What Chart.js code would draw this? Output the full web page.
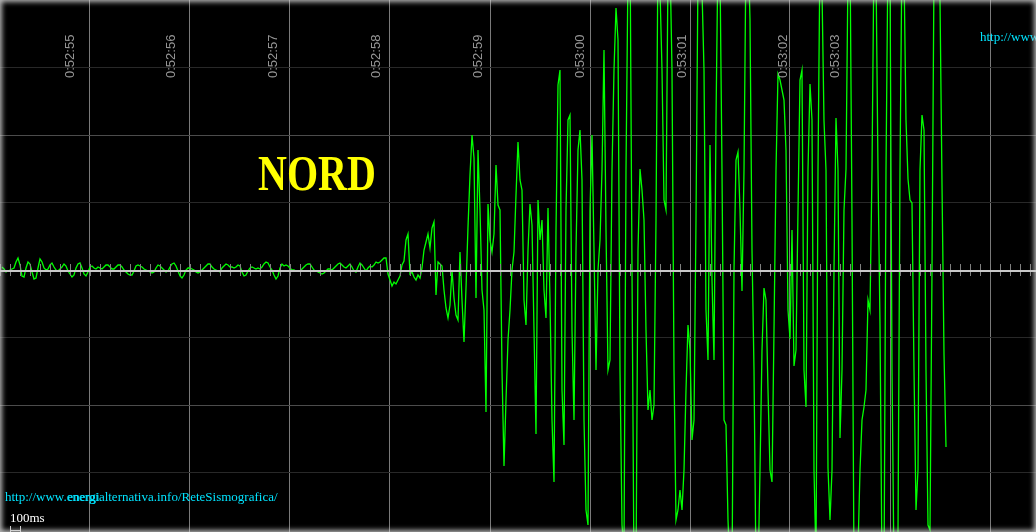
<!DOCTYPE html>
<html>
<head>
<meta charset="utf-8">
<script src="https://cdn.jsdelivr.net/npm/chart.js@4.4.0/dist/chart.umd.min.js"></script>
<style>
html,body{margin:0;padding:0;background:#000;overflow:hidden;}
#wrap{position:relative;width:1036px;height:532px;background:#000;}
#frame{position:absolute;left:0;top:0;width:1036px;height:532px;pointer-events:none;
  box-shadow: inset 0 0 5px 2px rgba(215,215,215,0.85);}
canvas{display:block;}
</style>
</head>
<body>
<div id="wrap"><canvas id="c" width="1036" height="532"></canvas><div id="frame"></div></div>
<script>
// ---- data ----
const startTime = -0.88;        // seconds, relative to the first grid second
const sampleInterval = 0.02;    // seconds between samples
const quietTrace = [
  3, 1, -2, -1, 0, 1, 2, 8, 12, 5,
  -6, -7, 2, 8, 6, -2, -9, -8, 2, 11,
  8, 2, 0, 1, 5, 7, 3, 0, -1, 1,
  3, 6, 4, -1, -4, -7, -5, 2, 6, 7,
  2, -4, -6, -2, 3, 4, 2, 1, 3, 2,
  1, 3, 5, 5, 3, 1, 1, 3, 5, 5,
  3, 0, -2, -4, -5, -5, -1, 4, 5, 4,
  3, 1, 0, -1, -2, -3, -2, 2, 5, 4,
  2, 0, -2, -1, 3, 6, 7, 4, -1, -6,
  -8, -5, 0, 2, 2, 1, 0, -2, -3, -2,
  0, 2, 4, 6, 6, 3, 1, 0, -1, -2,
  2, 4, 6, 5, 3, 3, 2, 3, 5, 4,
  -2, -6, -5, -1, 2, 3, 2, 1, 2, 1,
  3, 6, 8, 7, 3, 0, -5, -9, -6, 2,
  6, 4, 5, 4, 2, 0, 0, -1, -1, -1,
  1, 3, 5, 6, 6, 3, 0, -1, -2, -3,
  -4, -3, -1, 1, 1, 0, 2, 4, 6, 7,
  5, 3, 2, 4, 6, 3, -1, -2, 3, 7,
  5, 2, -1, 2, 4, 3, 5, 8, 7, 8,
  10, 12, 12, -4
];
const onsetTrace = [
  -10, -16, -12, -14, -10, -6, 5, 9, 30, 36,
  -4, -2, -7, -10, -5, -8, 2, 20, 28, 36,
  22, 42, 48, -25, 8, 6, 4, -20, -38, -48,
  -35, 0, -28, -45, -50, 18, -30, -72, -18, 43,
  95, 135, 112, -28, 120, 60, -20, -40, -142, 66,
  30, 18, 36, 105, 65, 60, -100, -196, -130, -70,
  -40, 0, 18, 75, 128, 90, 80, -30, -55, 20,
  66
];
const strongTrace = [
  45, -60, -164, 70, 30, 50, -20, -48, 62, -30,
  -150, -212, 40, 185, 200, -120, -175, 60, 150, 155,
  -60, -150, 20, 120, 140, 90, -150, -240, -255, 60,
  135, 20, -100, 0, 30, 100, 220, 40, -100, -90,
  100, 200, 262, 230, -100, -255, -280, 100, 300, 330,
  0, -300, -300, 20, 101, 80, 50, -60, -140, -120,
  -150, -135, 50, 320, 280, 200, 70, 60, 300, 310,
  200, -100, -250, -240, -220, -240, -200, -120, -55, -80,
  -170, -150, 50, 300, 330, 280, 200, -40, -90, 125,
  -10, -90, 150, 320, 300, 100, -150, -155, -250, -300,
  -310, 0, 110, 118, 60, -21, 100, 320, 330, 250,
  20, -100, -300, -310, -200, -80, -18, -30, -120, -200,
  -212, -60, 100, 196, 190, 180, 170, 120, -40, -69,
  40, -96, -80, 60, 190, 200, -100, -137, 100, 186,
  150, -200, -290, 100, 320, 280, 149, 100, -198, -250,
  -200, 0, 152, 100, -168, -100, 60, 101, 300, 320,
  50, -300, -310, -280, -200, -150, -137, -120, -30, -40,
  100, 320, 300, 100, -55, -300, -310, 100, 320, 300,
  -100, -300, -310, -262, 100, 320, 300, 150, 91, 70,
  67, -100, -240, -200, 100, 155, 140, -100, -255, -260,
  0, 300, 320, 300, 270, 86, -84, -177
];
const timeLabels = ['0:52:55','0:52:56','0:52:57','0:52:58','0:52:59','0:53:00','0:53:01','0:53:02','0:53:03'];
const timeLabelPositions = [-0.20, 0.81, 1.83, 2.86, 3.88, 4.90, 5.92, 6.93, 7.45];
const gridSeconds = [0, 1, 2, 3, 4, 5, 6, 7, 8, 9];
const amplitudeGrid = [-202.5, -135, -67.5, 67.5, 135, 202.5];
const timeMin = -0.9, timeMax = 9.46;
const amplitudeMin = -262, amplitudeMax = 270;
const tickStep = 0.1; // 100 ms marks
const stationTitle = 'NORD';
const siteUrl = 'http://www.energialternativa.info/ReteSismografica/';
const siteUrlShort = 'http://www';
const scaleLabel = '100ms';

// ---- build ----
const trace = quietTrace.concat(onsetTrace, strongTrace);
const points = trace.map((v, i) => ({x: +(startTime + i * sampleInterval).toFixed(3), y: v}));

const overlay = {
  id: 'overlay',
  afterDatasetsDraw(chart) {
    const {ctx, chartArea, scales: {x, y}} = chart;
    const y0 = Math.round(y.getPixelForValue(0));
    ctx.save();
    // 100 ms tick marks
    ctx.fillStyle = '#808080';
    for (let k = Math.ceil(timeMin / tickStep); k <= Math.floor(timeMax / tickStep); k++) {
      const px = Math.round(x.getPixelForValue(k * tickStep));
      ctx.fillRect(px, y0 - 6, 1, 12);
    }
    // zero line
    ctx.fillStyle = '#c8c8c8';
    ctx.fillRect(chartArea.left, y0, chartArea.right - chartArea.left, 2);
    // time labels
    ctx.fillStyle = '#969696';
    ctx.font = '13px "Liberation Sans", Arial, sans-serif';
    ctx.textAlign = 'left';
    ctx.textBaseline = 'middle';
    timeLabels.forEach((t, i) => {
      const px = x.getPixelForValue(timeLabelPositions[i]);
      ctx.save();
      ctx.translate(px, 78);
      ctx.rotate(-Math.PI / 2);
      ctx.fillText(t, 0, 0);
      ctx.restore();
    });
    ctx.restore();
  },
  afterDraw(chart) {
    const ctx = chart.ctx;
    ctx.save();
    // station name
    ctx.fillStyle = '#ffff00';
    ctx.font = 'bold 40px "Liberation Serif", "Times New Roman", serif';
    ctx.textBaseline = 'alphabetic';
    ctx.textAlign = 'left';
    ctx.save();
    ctx.translate(258, 190);
    ctx.scale(1, 1.25);
    ctx.fillText(stationTitle, 0, 0);
    ctx.restore();
    // urls
    ctx.fillStyle = '#00e4ff';
    ctx.font = '13px "Liberation Serif", "Times New Roman", serif';
    ctx.fillText(siteUrlShort, 980, 41);
    ctx.fillText(siteUrl, 5, 501);
    const pre = ctx.measureText('http://www.').width;
    ctx.fillText('energi', 5 + pre + 0.8, 501);
    // scale label
    ctx.fillStyle = '#ffffff';
    ctx.font = '13px "Liberation Serif", "Times New Roman", serif';
    ctx.fillText(scaleLabel, 10, 522);
    ctx.fillStyle = '#cccccc';
    ctx.fillRect(10, 526, 1, 6);
    ctx.fillRect(20, 526, 1, 6);
    ctx.fillRect(10, 530, 11, 1);
    ctx.restore();
  }
};

new Chart(document.getElementById('c'), {
  type: 'line',
  data: {
    datasets: [{
      data: points,
      borderColor: '#00ff00',
      borderWidth: 1.3,
      pointRadius: 0,
      tension: 0,
      fill: false
    }]
  },
  options: {
    responsive: false,
    animation: false,
    devicePixelRatio: 1,
    layout: {padding: 0},
    plugins: {legend: {display: false}, tooltip: {enabled: false}},
    scales: {
      x: {
        type: 'linear', min: timeMin, max: timeMax,
        border: {display: false},
        ticks: {display: false},
        grid: {drawTicks: false, color: '#7a7a7a', lineWidth: 1},
        afterBuildTicks: s => { s.ticks = gridSeconds.map(v => ({value: v})); }
      },
      y: {
        type: 'linear', min: amplitudeMin, max: amplitudeMax,
        border: {display: false},
        ticks: {display: false},
        grid: {
          drawTicks: false, lineWidth: 1,
          color: c => Math.abs(Math.abs(c.tick.value) - 135) < 1 ? '#4c4c4c' : '#282828'
        },
        afterBuildTicks: s => { s.ticks = amplitudeGrid.map(v => ({value: v})); }
      }
    }
  },
  plugins: [overlay]
});
</script>
</body>
</html>
